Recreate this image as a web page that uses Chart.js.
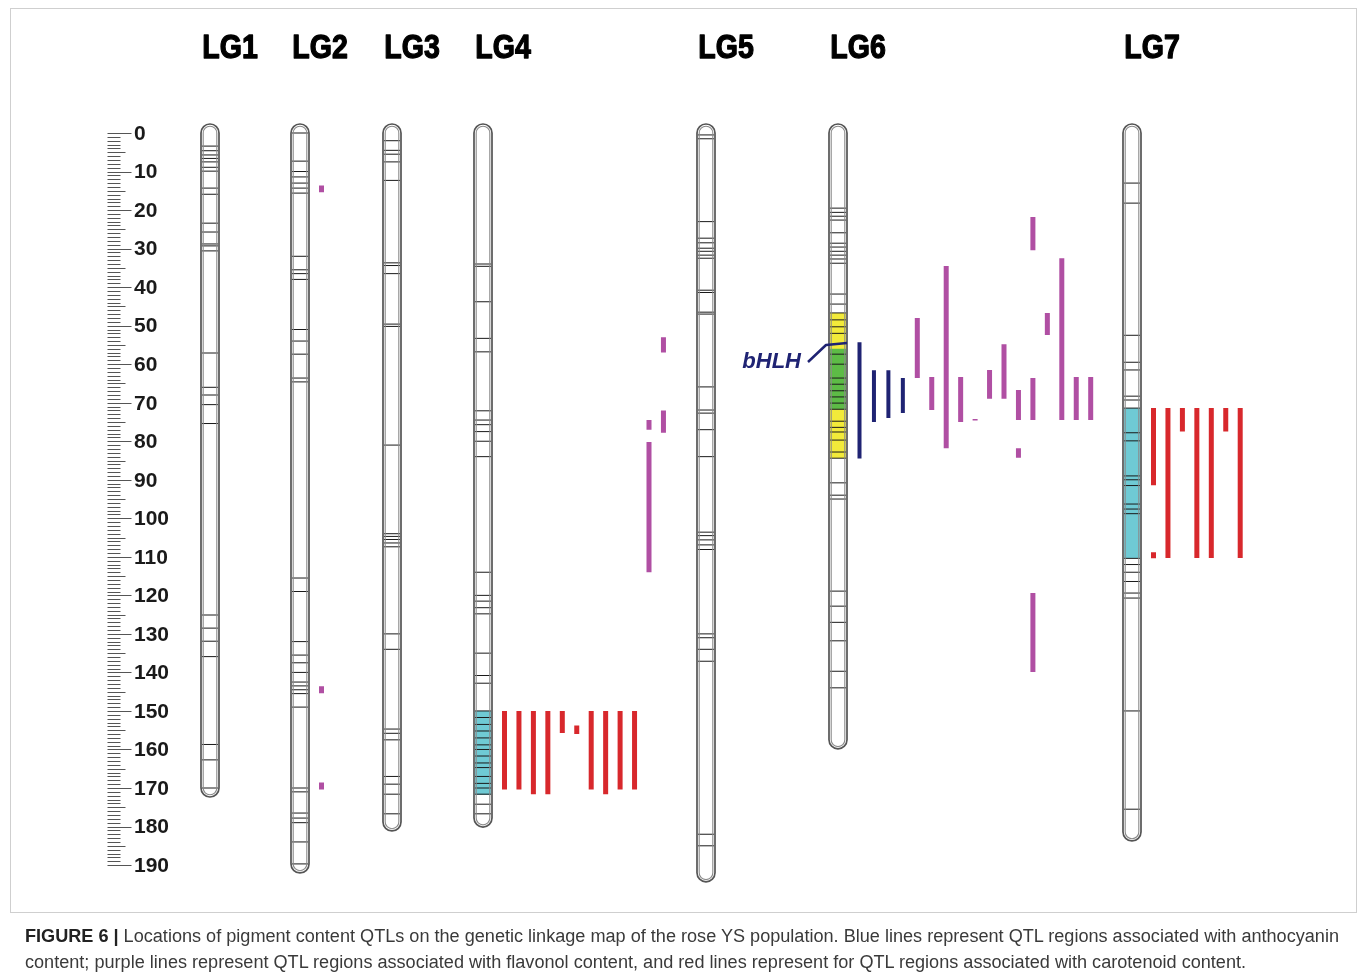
<!doctype html>
<html lang="en">
<head>
<meta charset="utf-8">
<title>Pigment content QTLs - rose YS linkage map</title>
<script src="https://cdn.jsdelivr.net/npm/chart.js"></script>
<style>
  html, body { margin: 0; padding: 0; background: #fff; }
  #frame { position: absolute; left: 10px; top: 8px; width: 1345px; height: 903px; border: 1px solid #cfcfcf; }
  #chart { position: absolute; left: 0; top: 0; }
  #caption { position: absolute; left: 25px; top: 923px; font-family: "Liberation Sans", Arial, sans-serif;
             font-size: 18px; line-height: 26px; color: #3a3a3a; white-space: nowrap; transform-origin: 0 0; }
  #caption .ln { display: inline-block; }
  #caption b { color: #222; }
</style>
</head>
<body>
<div id="frame"></div>
<canvas id="chart" width="1357" height="978"></canvas>
<div id="caption"><span class="ln" id="line1"><b>FIGURE 6 |</b> Locations of pigment content QTLs on the genetic linkage map of the rose YS population. Blue lines represent QTL regions associated with anthocyanin</span><br><span class="ln">content; purple lines represent QTL regions associated with flavonol content, and red lines represent for QTL regions associated with carotenoid content.</span></div>

<script>
// ---- data (cM) ----
const groups = ['LG1', 'LG2', 'LG3', 'LG4', 'LG5', 'LG6', 'LG7'];
const groupLengths = [170, 189.7, 178.8, 177.8, 192, 157.5, 181.4];

const markersLG1 = [3.4, 4.6, 5.7, 6.6, 7.5, 8.9, 9.9, 14.3, 15.9, 23.4, 25.7, 28.8, 29.3, 30.6, 57.1, 66, 68, 70.5, 75.4,
                    125.1, 128.5, 131.9, 135.9, 158.7, 162.7, 170];
const markersLG2 = [0, 7.3, 10, 11.4, 13, 14.3, 15.6, 32, 35.5, 36.5, 38, 51, 54, 57.4, 63.6, 64.6, 115.5, 119,
                    132, 135.5, 137.5, 140, 142.5, 143.5, 144.5, 145.5, 149, 170, 171, 176.5, 177.8, 179, 184, 189.7];
const markersLG3 = [2, 4.5, 5.5, 7.5, 12.3, 33.7, 34.4, 36.5, 49.6, 50.2, 81, 104, 104.7, 105.5, 106.4, 107.4,
                    130, 134, 154.7, 155.8, 157.5, 167, 169, 171.6, 176.7];
const markersLG4 = [34, 34.6, 43.8, 53.3, 56.8, 72.1, 74.5, 75.7, 77.5, 80, 84, 114, 120, 121.5, 123.2, 124.8, 135,
                    140.8, 142.8, 150, 151.7, 153.5, 155.2, 157, 158.8, 160, 161.7, 163.5, 164.7, 167, 168.8, 170,
                    171.6, 174.2, 176.7];
const markersLG5 = [0.5, 1.5, 23, 27.3, 28.5, 29.9, 30.7, 31.7, 32.5, 40.8, 41.4, 46.5, 47, 65.9, 71.9, 72.7, 77, 84,
                    103.6, 104.5, 105.6, 106.9, 108.1, 130, 131, 134, 137.1, 182, 185];
const markersLG6 = [19.5, 20.6, 21.6, 22.6, 25.9, 28.6, 29.6, 30.7, 31.7, 32.7, 33.8, 41.8, 44.4, 46.7, 48.5, 50.3, 52,
                    57.4, 60, 63.6, 65.2, 66.9, 68.5, 70.1, 71.7, 74.8, 76.4, 77.6, 79.7, 82.8, 84.4, 90.8, 94, 95,
                    118.9, 122.8, 127, 131.8, 139.7, 144];
const markersLG7 = [13, 18.2, 52.5, 59.5, 61.5, 68.3, 69.3, 71.4, 77.8, 79.9, 89, 90, 91.5, 96.3, 97.6, 98.8, 110.4,
                    112, 114, 116.4, 119.4, 120.7, 150, 175.5];
const markerLists = [markersLG1, markersLG2, markersLG3, markersLG4, markersLG5, markersLG6, markersLG7];

const rulerLabels = [0, 10, 20, 30, 40, 50, 60, 70, 80, 90, 100, 110, 120, 130, 140, 150, 160, 170, 180, 190];

// QTL regions: [group, column beside the group, start cM, end cM]
const anthocyaninQTL = [
  ['LG6', 1, 54.3, 84.5], ['LG6', 2, 61.6, 75], ['LG6', 3, 61.6, 74], ['LG6', 4, 63.6, 72.7]
];
const flavonolQTL = [
  ['LG2', 1, 13.6, 15.4], ['LG2', 1, 143.6, 145.4], ['LG2', 1, 168.6, 170.4],
  ['LG4', 11, 74.5, 77], ['LG4', 11, 80.2, 114], ['LG4', 12, 53, 57], ['LG4', 12, 72, 77.8],
  ['LG6', 5, 48, 63.6], ['LG6', 6, 63.3, 71.9], ['LG6', 7, 34.5, 81.8], ['LG6', 8, 63.3, 75],
  ['LG6', 9, 74.2, 74.6], ['LG6', 10, 61.5, 69], ['LG6', 11, 54.8, 69], ['LG6', 12, 66.7, 74.5],
  ['LG6', 12, 81.8, 84.3], ['LG6', 13, 21.8, 30.4], ['LG6', 13, 63.6, 74.5], ['LG6', 13, 119.4, 139.9],
  ['LG6', 14, 46.7, 52.4], ['LG6', 15, 32.5, 74.5], ['LG6', 16, 63.3, 74.5], ['LG6', 17, 63.3, 74.5]
];
const carotenoidQTL = [
  ['LG4', 1, 150, 170.4], ['LG4', 2, 150, 170.4], ['LG4', 3, 150, 171.6], ['LG4', 4, 150, 171.6],
  ['LG4', 5, 150, 155.7], ['LG4', 6, 153.8, 156], ['LG4', 7, 150, 170.4], ['LG4', 8, 150, 171.6],
  ['LG4', 9, 150, 170.4], ['LG4', 10, 150, 170.4],
  ['LG7', 1, 71.4, 91.4], ['LG7', 1, 108.8, 110.4], ['LG7', 2, 71.4, 110.3], ['LG7', 3, 71.4, 77.5],
  ['LG7', 4, 71.4, 110.3], ['LG7', 5, 71.4, 110.3], ['LG7', 6, 71.4, 77.5], ['LG7', 7, 71.4, 110.3]
];

// shaded chromosome segments: [group, start cM, end cM]
const cyanRegions = [['LG4', 150, 171.8], ['LG7', 71.4, 110.3]];
const yellowRegions = [['LG6', 46.7, 84.4]];
const greenRegions = [['LG6', 56, 71.7]];
const geneMark = ['LG6', 54.5, 'bHLH'];

// ---- layout / style ----
const layout = {
  centers: { LG1: 210, LG2: 300, LG3: 392, LG4: 483, LG5: 706, LG6: 838, LG7: 1132 },
  firstCol: 21.5, colStep: 14.45, halfWidth: 9,
  zeroPx: 133, pxPerCM: 3.853, height: 978, width: 1357,
  ruler: { left: 107.5, minor: 120.5, mid: 125.5, major: 131.5, label: 134 }
};
const colors = {
  marker: '#1a1a1a', outline: '#555', inner: '#8a8a8a',
  navy: '#1f2373', purple: '#b04fa3', red: '#d8282c',
  cyan: '#6fcad4', yellow: '#f2ea3a', green: '#5dbb46'
};

function colX(g, col) {
  return layout.centers[g] + layout.firstCol + layout.colStep * (col - 1);
}

function qtlPoints(list) {
  const pts = [];
  list.forEach(([g, col, a, b]) => {
    const xv = colX(g, col);
    pts.push({ x: xv, y: a }, { x: xv, y: b }, { x: xv, y: null });
  });
  return pts;
}

const markerPoints = [];
groups.forEach((g, i) => {
  markerLists[i].forEach(v => markerPoints.push({ x: layout.centers[g], y: v }));
});

function chromPath(ctx, cx, top, bot, r) {
  ctx.beginPath();
  ctx.moveTo(cx - r, top);
  ctx.arc(cx, top, r, Math.PI, 0);
  ctx.lineTo(cx + r, bot);
  ctx.arc(cx, bot, r, 0, Math.PI);
  ctx.closePath();
}

const mapPlugin = {
  id: 'linkageMap',
  beforeDatasetsDraw(chart) {
    const { ctx, scales: { x, y } } = chart;
    const r = layout.halfWidth;
    ctx.save();
    groups.forEach((g, i) => {
      const cx = x.getPixelForValue(layout.centers[g]);
      chromPath(ctx, cx, y.getPixelForValue(0), y.getPixelForValue(groupLengths[i]), r);
      ctx.fillStyle = '#fff';
      ctx.fill();
    });
    const shade = (list, color) => list.forEach(([g, a, b]) => {
      const cx = x.getPixelForValue(layout.centers[g]);
      const ya = y.getPixelForValue(a), yb = y.getPixelForValue(b);
      ctx.fillStyle = color;
      ctx.fillRect(cx - r + 1, ya, 2 * (r - 1), yb - ya);
    });
    shade(cyanRegions, colors.cyan);
    shade(yellowRegions, colors.yellow);
    shade(greenRegions, colors.green);
    ctx.restore();
  },
  afterDatasetsDraw(chart) {
    const { ctx, scales: { x, y } } = chart;
    const r = layout.halfWidth;
    ctx.save();

    // chromosome outlines (double line)
    groups.forEach((g, i) => {
      const cx = x.getPixelForValue(layout.centers[g]);
      const top = y.getPixelForValue(0), bot = y.getPixelForValue(groupLengths[i]);
      chromPath(ctx, cx, top, bot, r);
      ctx.lineWidth = 1.7;
      ctx.strokeStyle = colors.outline;
      ctx.stroke();
      chromPath(ctx, cx, top, bot, r - 2.2);
      ctx.lineWidth = 1.1;
      ctx.strokeStyle = colors.inner;
      ctx.stroke();
    });

    // ruler
    const R = layout.ruler;
    const last = rulerLabels[rulerLabels.length - 1];
    ctx.strokeStyle = '#555';
    ctx.lineWidth = 1;
    for (let v = 0; v <= last; v++) {
      const py = Math.round(y.getPixelForValue(v)) + 0.5;
      const end = v % 10 === 0 ? R.major : (v % 5 === 0 ? R.mid : R.minor);
      ctx.beginPath();
      ctx.moveTo(R.left, py);
      ctx.lineTo(end, py);
      ctx.stroke();
    }
    ctx.fillStyle = '#1a1a1a';
    ctx.font = 'bold 21px "Liberation Sans", Arial, sans-serif';
    ctx.textAlign = 'left';
    ctx.textBaseline = 'middle';
    rulerLabels.forEach(v => ctx.fillText(String(v), R.label, y.getPixelForValue(v) + 1));

    // group titles (heavy, condensed)
    ctx.font = 'bold 34px "Liberation Sans", Arial, sans-serif';
    ctx.textAlign = 'center';
    ctx.textBaseline = 'alphabetic';
    ctx.fillStyle = '#000';
    ctx.strokeStyle = '#000';
    ctx.lineWidth = 1.3;
    ctx.lineJoin = 'round';
    groups.forEach(g => {
      ctx.save();
      ctx.translate(x.getPixelForValue(layout.centers[g]) + 20, 58);
      ctx.scale(0.84, 1);
      ctx.fillText(g, 0, 0);
      ctx.strokeText(g, 0, 0);
      ctx.restore();
    });

    // gene label with connector
    const [gg, gv, gname] = geneMark;
    const gx = x.getPixelForValue(layout.centers[gg]);
    const gy = y.getPixelForValue(gv);
    ctx.strokeStyle = colors.navy;
    ctx.lineWidth = 2.5;
    ctx.beginPath();
    ctx.moveTo(gx - 30, gy + 19);
    ctx.lineTo(gx - 12, gy + 2);
    ctx.lineTo(gx + r, gy);
    ctx.stroke();
    ctx.fillStyle = colors.navy;
    ctx.font = 'italic bold 22px "Liberation Sans", Arial, sans-serif';
    ctx.textAlign = 'right';
    ctx.textBaseline = 'middle';
    ctx.fillText(gname, gx - 37, gy + 19);

    ctx.restore();
  }
};

const qtlStyle = (label, list, color, width) => ({
  label: label, data: qtlPoints(list), showLine: true, spanGaps: false,
  borderColor: color, borderWidth: width, borderCapStyle: 'butt',
  pointRadius: 0, pointHoverRadius: 0
});

new Chart(document.getElementById('chart'), {
  type: 'scatter',
  data: {
    datasets: [
      { label: 'markers', data: markerPoints, showLine: false, pointStyle: 'line', pointRadius: 8,
        pointHoverRadius: 8, pointBorderColor: colors.marker, pointBorderWidth: 1, borderColor: colors.marker },
      qtlStyle('anthocyanin', anthocyaninQTL, colors.navy, 4),
      qtlStyle('flavonol', flavonolQTL, colors.purple, 5),
      qtlStyle('carotenoid', carotenoidQTL, colors.red, 5)
    ]
  },
  options: {
    responsive: false,
    animation: false,
    events: [],
    layout: { padding: 0, autoPadding: false },
    plugins: { legend: { display: false }, tooltip: { enabled: false } },
    scales: {
      x: { type: 'linear', display: false, min: 0, max: layout.width },
      y: { type: 'linear', display: false, reverse: true,
           min: -layout.zeroPx / layout.pxPerCM, max: (layout.height - layout.zeroPx) / layout.pxPerCM }
    }
  },
  plugins: [mapPlugin]
});

// squeeze caption to the printed line width
const cap = document.getElementById('caption');
const w1 = document.getElementById('line1').getBoundingClientRect().width;
cap.style.transform = 'scaleX(' + (1314 / w1) + ')';
</script>
</body>
</html>
